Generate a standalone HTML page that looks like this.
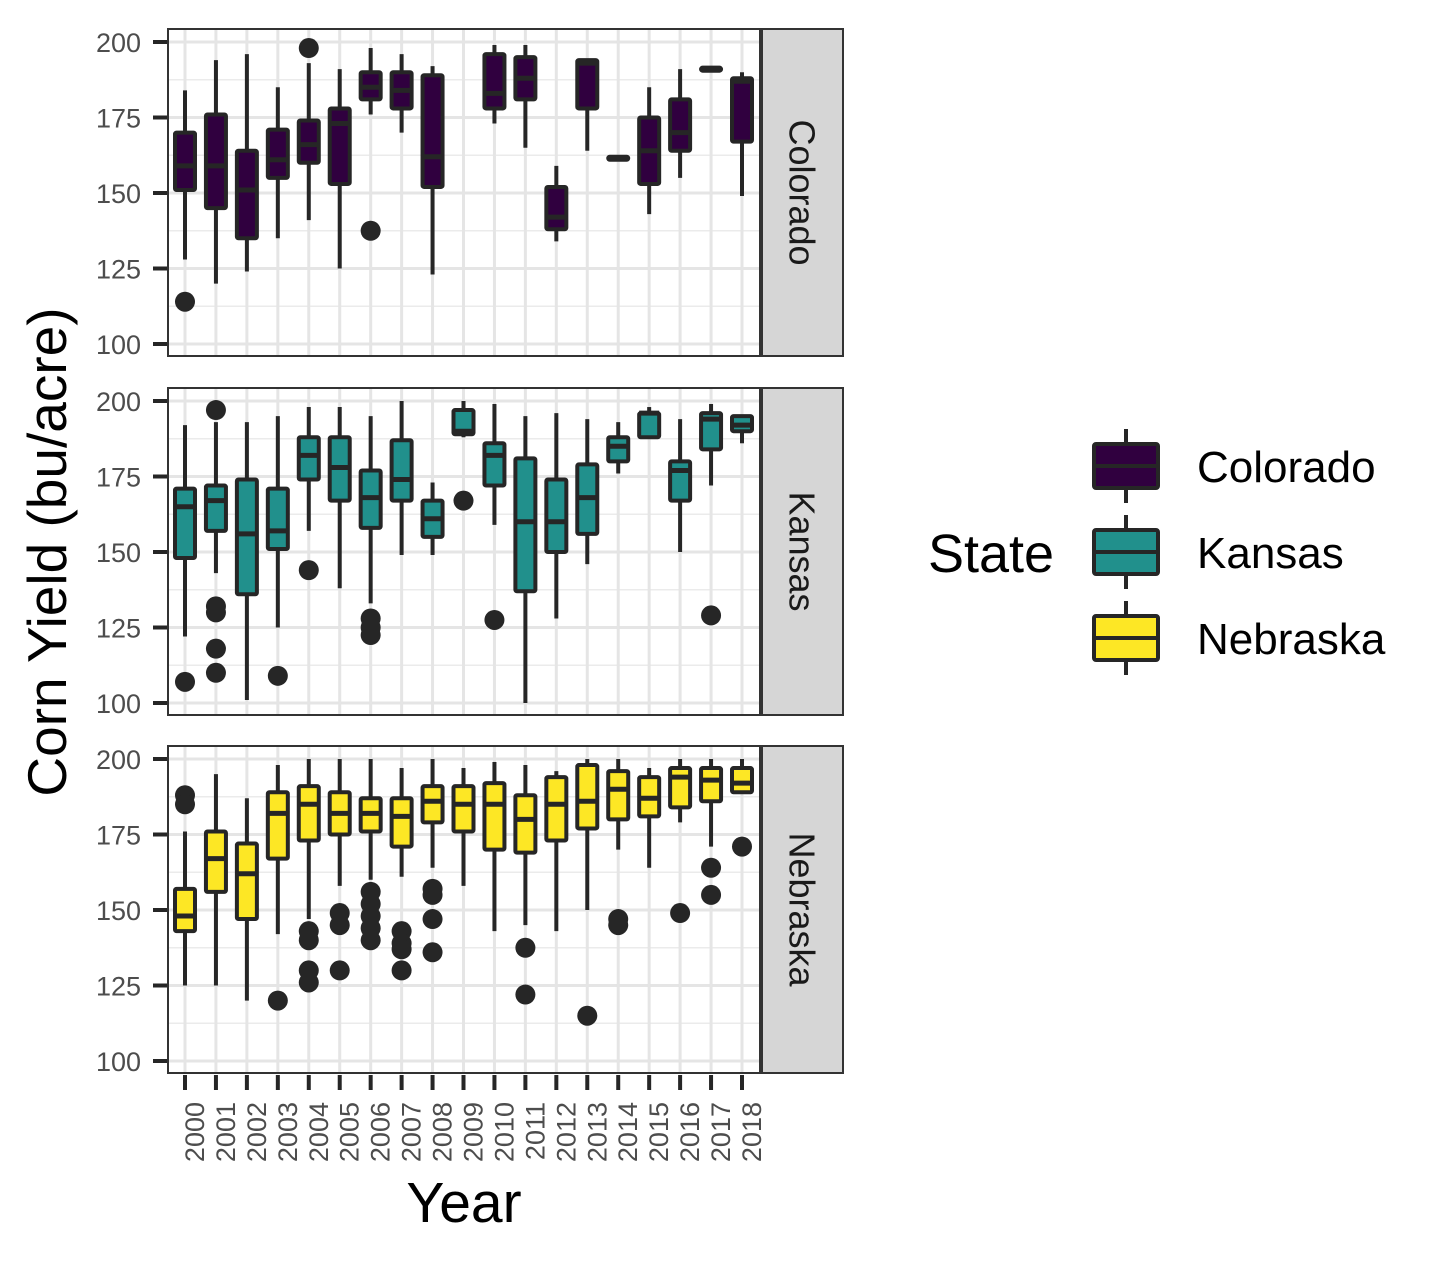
<!DOCTYPE html>
<html><head><meta charset="utf-8"><style>
body{margin:0;background:#fff;}
svg text{font-family:"Liberation Sans",Arial,sans-serif;}
</style></head><body>
<svg id="chart" width="1440" height="1260" xmlns="http://www.w3.org/2000/svg"></svg>
<script>
const years = [2000,2001,2002,2003,2004,2005,2006,2007,2008,2009,2010,2011,2012,2013,2014,2015,2016,2017,2018];
const states = ["Colorado","Kansas","Nebraska"];
const fills = ["#30003f","#21908c","#fde725"];
const yTicks = [100,125,150,175,200];
// [year, whiskerLow, q1, median, q3, whiskerHigh]
const coloradoStats = [
 [2000,128,151,159,170,184],[2001,120,145,159,176,194],[2002,124,135,151,164,196],[2003,135,155,161,171,185],
 [2004,141,160,166,174,193],[2005,125,153,173,178,191],[2006,176,181,185,190,198],[2007,170,178,184,190,196],
 [2008,123,152,162,189,192],[2010,173,178,183,196,199],[2011,165,181,188,195,199],[2012,134,138,142,152,159],
 [2013,164,178,193,194,194],[2014,161,161,161.5,162,162],[2015,143,153,164,175,185],[2016,155,164,170,181,191],
 [2017,190.5,190.5,191,191.5,191.5],[2018,149,167,187,188,190]];
const coloradoOutliers = [[2000,114],[2004,198],[2006,137.5]];
const kansasStats = [
 [2000,122,148,165,171,192],[2001,143,157,167,172,193],[2002,101,136,156,174,193],[2003,125,151,157,171,195],
 [2004,157,174,182,188,198],[2005,138,167,178,188,198],[2006,133,158,168,177,195],[2007,149,167,174,187,200],
 [2008,149,155,161,167,173],[2009,188,189,190,197,200],[2010,159,172,182,186,199],[2011,100,137,160,181,195],
 [2012,128,150,160,174,196],[2013,146,156,168,179,194],[2014,176,180,185,188,193],[2015,196,188,196,196,198],
 [2016,150,167,177,180,194],[2017,172,184,194,196,199],[2018,186,190,192,195,195]];
const kansasOutliers = [[2000,107],[2001,197],[2001,132],[2001,130],[2001,118],[2001,110],[2003,109],[2004,144],
 [2006,128],[2006,125],[2006,122.5],[2009,167],[2010,127.5],[2017,129]];
const nebraskaStats = [
 [2000,125,143,148,157,176],[2001,125,156,167,176,195],[2002,120,147,162,172,187],[2003,142,167,182,189,198],
 [2004,147,173,185,191,200],[2005,158,175,182,189,200],[2006,160,176,182,187,200],[2007,161,171,181,187,197],
 [2008,164,179,186,191,200],[2009,158,176,185,191,197],[2010,143,170,185,192,199],[2011,145,169,180,188,198],
 [2012,143,173,185,194,196],[2013,150,177,186,198,200],[2014,170,180,190,196,200],[2015,164,181,187,194,197],
 [2016,179,184,194,197,200],[2017,171,186,193,197,200],[2018,189,189,192,197,200]];
const nebraskaOutliers = [[2000,188],[2000,185],[2003,120],[2004,143],[2004,140],[2004,130],[2004,126],
 [2005,149],[2005,145],[2005,130],[2006,156],[2006,152],[2006,148],[2006,144],[2006,140],
 [2007,143],[2007,139],[2007,137],[2007,130],[2008,157],[2008,155],[2008,147],[2008,136],
 [2011,137.5],[2011,122],[2013,115],[2014,147],[2014,145],[2016,149],[2017,164],[2017,155],[2018,171]];
const allStats=[coloradoStats,kansasStats,nebraskaStats];
const allOut=[coloradoOutliers,kansasOutliers,nebraskaOutliers];

const svg=document.getElementById('chart');
const NS='http://www.w3.org/2000/svg';
function mk(tag,attrs,parent){const e=document.createElementNS(NS,tag);for(const k in attrs)e.setAttribute(k,attrs[k]);(parent||svg).appendChild(e);return e;}
const panelL=168,panelR=760,stripR=843;
const panelTops=[29,388,746],panelH=327;
const xScale=y=>185+(y-2000)*(557/18);
function yScale(p,v){return panelTops[p]+13+(200-v)*3.02;}
const dark="#262626";

panelTops.forEach((top,p)=>{
  const g=mk('g',{});
  
  
  for(let v=87.5;v<=212.5;v+=25){const y=yScale(p,v);if(y>top&&y<top+panelH){const l=mk('line',{x1:panelL,x2:panelR,y1:y,y2:y,stroke:'#ebebeb','stroke-width':1.5},g);}}
  yTicks.forEach(v=>{const y=yScale(p,v);const l=mk('line',{x1:panelL,x2:panelR,y1:y,y2:y,stroke:'#e5e5e5','stroke-width':3},g);
    const t=mk('line',{x1:153,x2:168,y1:y,y2:y,stroke:dark,'stroke-width':4},g);
    const tx=mk('text',{x:141,y:y+10,'text-anchor':'end','font-size':27,fill:'#4d4d4d'},g);tx.textContent=v;});
  years.forEach(yr=>{const x=xScale(yr);const l=mk('line',{x1:x,x2:x,y1:top,y2:top+panelH,stroke:'#e5e5e5','stroke-width':3},g);});
  allStats[p].forEach(s=>{
    const x=xScale(s[0]);const bw=20;
    const w=mk('line',{x1:x,x2:x,y1:yScale(p,s[1]),y2:yScale(p,s[5]),stroke:dark,'stroke-width':4},g);
    const b=mk('rect',{x:x-bw/2,y:yScale(p,s[4]),width:bw,height:Math.max(1,yScale(p,s[2])-yScale(p,s[4])),fill:fills[p],stroke:dark,'stroke-width':4,rx:1.5},g);
    const m=mk('line',{x1:x-bw/2,x2:x+bw/2,y1:yScale(p,s[3]),y2:yScale(p,s[3]),stroke:dark,'stroke-width':5},g);
  });
  allOut[p].forEach(o=>{const c=mk('circle',{cx:xScale(o[0]),cy:yScale(p,o[1]),r:10,fill:dark},g);});
  const br=mk('rect',{x:panelL,y:top,width:panelR-panelL,height:panelH,fill:'none',stroke:'#333','stroke-width':2},g);
  const st=mk('rect',{x:762,y:top,width:stripR-762,height:panelH,fill:'#d6d6d6',stroke:'#333','stroke-width':2},g);
  const cx=802,cy=top+panelH/2;
  const stt=mk('text',{x:cx,y:cy,'text-anchor':'middle','dominant-baseline':'central','font-size':36,fill:'#1a1a1a',transform:`rotate(90 ${cx} ${cy})`},g);stt.textContent=states[p];
});
years.forEach(yr=>{const x=xScale(yr);
  const t=mk('line',{x1:x,x2:x,y1:1075,y2:1090,stroke:dark,'stroke-width':4});
  const bx=x+19,by=1102;
  const tx=mk('text',{x:bx,y:by,'text-anchor':'end','font-size':27,fill:'#4d4d4d',transform:`rotate(-90 ${bx} ${by})`});tx.textContent=yr;});
const xt=mk('text',{x:464,y:1222,'text-anchor':'middle','font-size':57,fill:'#000'});xt.textContent='Year';
const yt=mk('text',{x:66,y:552,'text-anchor':'middle','font-size':55,fill:'#000',transform:'rotate(-90 66 552)'});yt.textContent='Corn Yield (bu/acre)';
const lt=mk('text',{x:928,y:572,'font-size':54,fill:'#000'});lt.textContent='State';
const legY=[466,552,638];
states.forEach((s,i)=>{const cy=legY[i];
  const g=mk('g',{});
  mk('line',{x1:1126,x2:1126,y1:cy-37,y2:cy+37,stroke:dark,'stroke-width':4},g);
  mk('rect',{x:1094,y:cy-22,width:64,height:44,fill:fills[i],stroke:dark,'stroke-width':4,rx:2},g);
  mk('line',{x1:1094,x2:1158,y1:cy,y2:cy,stroke:dark,'stroke-width':4},g);
  const t=mk('text',{x:1197,y:cy+16,'font-size':44,fill:'#000'},g);t.textContent=s;
});
</script>
</body></html>
